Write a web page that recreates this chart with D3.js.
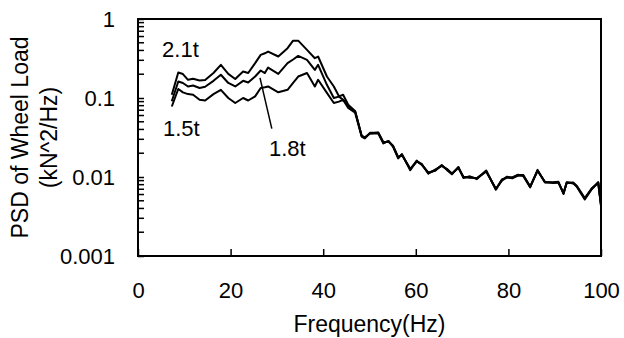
<!DOCTYPE html>
<html>
<head>
<meta charset="utf-8">
<script src="https://cdn.jsdelivr.net/npm/d3@7"></script>
<style>
  body { margin: 0; background: #fff; }
  text { font-family: "Liberation Sans", Arial, sans-serif; fill: #000; }
</style>
</head>
<body>
<div id="chart"></div>
<script>
// Frequency (Hz) of each point, shared by the three series
const freq = [7.3, 8.7, 9.7, 10.8, 11.9, 13.3, 14.5, 16.3, 17.9, 19.5, 21.0, 22.7, 23.8, 25.3, 26.5, 27.4, 28.1, 30.3, 32.3, 33.5,
  34.6, 36.5, 38.2, 38.9, 40.8, 42.3, 43.4, 44.3, 45.4, 46.9, 48.3, 49.0, 50.1, 51.9, 53.0, 54.1, 55.1, 56.2, 57.0, 58.8,
  60.2, 61.3, 62.7, 64.2, 65.6, 66.7, 67.8, 69.2, 70.3, 71.7, 73.2, 75.2, 77.3, 78.6, 79.7, 80.8, 82.1, 83.2, 84.7, 86.3,
  87.9, 89.7, 90.8, 91.9, 92.6, 94.0, 94.8, 96.5, 98.0, 99.4, 100.0];

// PSD of wheel load (kN^2/Hz)
const psd21 = [0.110, 0.210, 0.201, 0.170, 0.175, 0.167, 0.169, 0.207, 0.263, 0.202, 0.174, 0.216, 0.207, 0.276, 0.352, 0.368, 0.387, 0.335, 0.427, 0.532,
  0.532, 0.407, 0.319, 0.335, 0.187, 0.140, 0.105, 0.110, 0.082, 0.068, 0.0330, 0.0313, 0.0362, 0.0362, 0.0271, 0.0284, 0.0245, 0.0175, 0.0193, 0.0125,
  0.0159, 0.0144, 0.0112, 0.0122, 0.0140, 0.0125, 0.0110, 0.0132, 0.0099, 0.0100, 0.0096, 0.0119, 0.0070, 0.0092, 0.0100, 0.0097, 0.0106, 0.0105, 0.0075, 0.0121,
  0.0086, 0.0085, 0.0086, 0.0062, 0.0085, 0.0084, 0.0076, 0.0053, 0.0071, 0.0085, 0.0044];
const psd18 = [0.091, 0.162, 0.155, 0.140, 0.144, 0.134, 0.139, 0.165, 0.197, 0.155, 0.140, 0.165, 0.157, 0.187, 0.223, 0.207, 0.243, 0.202, 0.276, 0.307,
  0.341, 0.304, 0.227, 0.263, 0.147, 0.100, 0.104, 0.095, 0.080, 0.068, 0.0335, 0.0318, 0.0355, 0.0365, 0.0275, 0.0280, 0.0248, 0.0178, 0.0190, 0.0127,
  0.0157, 0.0146, 0.0110, 0.0124, 0.0138, 0.0127, 0.0111, 0.0130, 0.0101, 0.0098, 0.0097, 0.0117, 0.0071, 0.0090, 0.0101, 0.0096, 0.0104, 0.0106, 0.0076, 0.0119,
  0.0087, 0.0084, 0.0085, 0.0063, 0.0084, 0.0085, 0.0077, 0.0054, 0.0072, 0.0084, 0.0045];
const psd15 = [0.078, 0.130, 0.118, 0.112, 0.110, 0.095, 0.093, 0.112, 0.127, 0.100, 0.0865, 0.100, 0.093, 0.105, 0.134, 0.137, 0.140, 0.118, 0.127, 0.155,
  0.187, 0.207, 0.140, 0.170, 0.116, 0.0865, 0.090, 0.095, 0.0748, 0.0653, 0.0325, 0.0308, 0.0358, 0.0355, 0.0266, 0.0286, 0.0240, 0.0172, 0.0195, 0.0122,
  0.0161, 0.0142, 0.0114, 0.0120, 0.0142, 0.0123, 0.0108, 0.0134, 0.0097, 0.0102, 0.0094, 0.0121, 0.0069, 0.0093, 0.0098, 0.0099, 0.0107, 0.0103, 0.0074, 0.0123,
  0.0085, 0.0086, 0.0087, 0.0061, 0.0086, 0.0083, 0.0075, 0.0052, 0.0070, 0.0086, 0.0043];

const seriesNames = ['1.5t', '1.8t', '2.1t'];
const xTicks = [0, 20, 40, 60, 80, 100];
const yTicks = [0.001, 0.01, 0.1, 1];

const width = 624;
const height = 338;
const margin = { top: 19, right: 23, bottom: 82, left: 138 };

const svg = d3.select('#chart')
  .append('svg')
  .attr('width', width)
  .attr('height', height);

const x = d3.scaleLinear()
  .domain([0, 100])
  .range([margin.left, width - margin.right]);

const y = d3.scaleLog()
  .domain([0.001, 1])
  .range([height - margin.bottom, margin.top]);

// Minor ticks of the log axis, pointing inward
const minor = y.ticks().filter(v => !yTicks.some(t => Math.abs(t - v) < 1e-12));
svg.append('g')
  .selectAll('line')
  .data(minor)
  .enter()
  .append('line')
  .attr('x1', x(0))
  .attr('x2', x(0) + 6)
  .attr('y1', d => y(d))
  .attr('y2', d => y(d))
  .attr('stroke', '#000')
  .attr('stroke-width', 1.5);

// Left axis with major ticks
svg.append('g')
  .attr('transform', 'translate(' + x(0) + ',0)')
  .call(d3.axisLeft(y).tickValues(yTicks).tickSize(-6).tickPadding(23).tickFormat(d => String(d)))
  .call(g => g.select('.domain').remove())
  .call(g => g.selectAll('line').attr('stroke-width', 1.5))
  .call(g => g.selectAll('text').style('font-size', '22px').attr('font-family', null));

// Bottom axis
svg.append('g')
  .attr('transform', 'translate(0,' + y(0.001) + ')')
  .call(d3.axisBottom(x).tickValues(xTicks).tickSize(-7).tickPadding(26))
  .call(g => g.select('.domain').remove())
  .call(g => g.selectAll('line').attr('stroke-width', 1.5))
  .call(g => g.selectAll('text').style('font-size', '22px').attr('font-family', null));

// Plot frame
svg.append('rect')
  .attr('x', x(0))
  .attr('y', y(1))
  .attr('width', x(100) - x(0))
  .attr('height', y(0.001) - y(1))
  .attr('fill', 'none')
  .attr('stroke', '#000')
  .attr('stroke-width', 2);

// Lines
const line = d3.line()
  .x((d, i) => x(freq[i]))
  .y(d => y(d));

svg.append('g')
  .selectAll('path')
  .data([psd15, psd18, psd21])
  .enter()
  .append('path')
  .attr('d', d => line(d))
  .attr('fill', 'none')
  .attr('stroke', '#000')
  .attr('stroke-width', 2)
  .attr('stroke-linejoin', 'round');

// Series labels
const labels = [
  { name: seriesNames[2], f: 5.2, v: 0.33 },
  { name: seriesNames[0], f: 5.4, v: 0.0335 },
  { name: seriesNames[1], f: 28.3, v: 0.0182 }
];
svg.append('g')
  .selectAll('text')
  .data(labels)
  .enter()
  .append('text')
  .attr('x', d => x(d.f))
  .attr('y', d => y(d.v))
  .style('font-size', '22px')
  .text(d => d.name);

// Pointer to the 1.8t curve
svg.append('line')
  .attr('x1', x(26.35))
  .attr('y1', y(0.18))
  .attr('x2', x(28.9))
  .attr('y2', y(0.041))
  .attr('stroke', '#000')
  .attr('stroke-width', 1.5);

// Axis titles
svg.append('text')
  .attr('x', x(50))
  .attr('y', 332)
  .attr('text-anchor', 'middle')
  .style('font-size', '23px')
  .text('Frequency(Hz)');

const yTitle = svg.append('text')
  .attr('transform', 'translate(0,' + ((y(1) + y(0.001)) / 2) + ') rotate(-90)')
  .attr('text-anchor', 'middle')
  .style('font-size', '23px');
yTitle.append('tspan').attr('x', 0).attr('y', 28).text('PSD of Wheel Load');
yTitle.append('tspan').attr('x', 0).attr('y', 57).text('(kN^2/Hz)');
</script>
</body>
</html>
